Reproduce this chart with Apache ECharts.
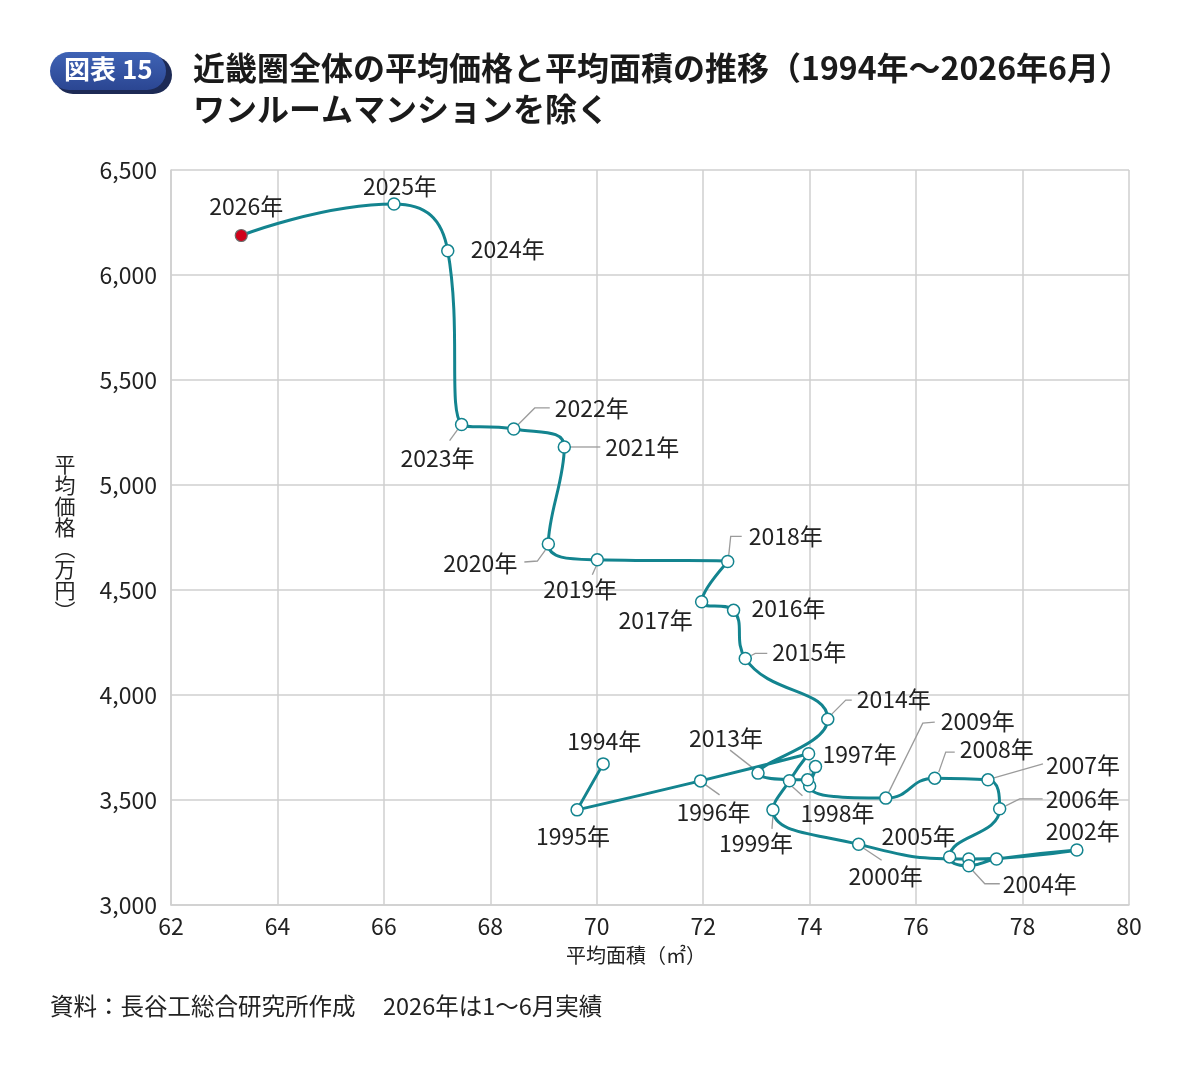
<!DOCTYPE html>
<html>
<head>
<meta charset="utf-8">
<script src="https://cdn.jsdelivr.net/npm/echarts@6/dist/echarts.min.js"></script>
<style>
html,body{margin:0;padding:0;background:#fff;}
#chart{width:1188px;height:1070px;}
</style>
</head>
<body>
<div id="chart"></div>
<script>
// ---- data ----
var years = [1994,1995,1996,1997,1998,1999,2000,2001,2002,2003,2004,2005,2006,2007,2008,2009,2010,2011,2012,2013,2014,2015,2016,2017,2018,2019,2020,2021,2022,2023,2024,2025,2026];
var area = [70.12,69.63,71.95,73.98,73.62,73.31,74.92,76.99,79.02,77.51,76.99,76.63,77.57,77.35,76.35,75.43,74.00,74.11,73.96,73.03,74.34,72.79,72.57,71.97,72.46,70.01,69.09,69.39,68.44,67.46,67.20,66.19,63.32];
var price = [3672,3453,3591,3720,3592,3453,3289,3219,3262,3219,3187,3229,3458,3596,3604,3509,3567,3659,3596,3628,3885,4174,4403,4444,4636,4644,4719,5181,5267,5288,6115,6338,6188];
var hiddenLabelYears = [2001,2003,2010,2011,2012];
var xTicks = {min:62, max:80, interval:2};
var yTicks = {min:3000, max:6500, interval:500};

// ---- label placement style (offset of label centre from point, leader line path) ----
var labelStyle = {
  1994:{off:[1,-23]},
  1995:{off:[-4,26]},
  1996:{off:[13,31], lead:[[5,4],[19,14]]},
  1997:{off:[51,0]},
  1998:{off:[48,33], lead:[[3,6],[13,15]]},
  1999:{off:[-17,33], lead:[[0,6],[-1,19]]},
  2000:{off:[27,32], lead:[[5,4],[23,16]]},
  2002:{off:[6,-19]},
  2004:{off:[71,19], lead:[[4,5],[16,18],[31,18]]},
  2005:{off:[-31,-21]},
  2006:{off:[83,-10], lead:[[6,-3],[20,-10],[43,-10]]},
  2007:{off:[95,-15], lead:[[6,-2],[55,-16]]},
  2008:{off:[62,-29], lead:[[4,-6],[11,-26],[20,-26]]},
  2009:{off:[92,-77], lead:[[3,-6],[37,-75],[49,-76]]},
  2013:{off:[-32,-35], lead:[[-5,-5],[-28,-23]]},
  2014:{off:[66,-20], lead:[[4,-5],[18,-19],[24,-19]]},
  2015:{off:[64,-6], lead:[[6,-3],[10,-5],[22,-5]]},
  2016:{off:[55,-2]},
  2017:{off:[-46,19]},
  2018:{off:[58,-25], lead:[[1,-6],[3,-25],[14,-25]]},
  2019:{off:[-17,30], lead:[[-1,6],[-5,15]]},
  2020:{off:[-68,19], lead:[[-3,6],[-11,17],[-24,18]]},
  2021:{off:[78,0], lead:[[6,0],[36,0]]},
  2022:{off:[78,-21], lead:[[4,-4],[21,-21],[36,-21]]},
  2023:{off:[-24,34], lead:[[-4,5],[-12,16]]},
  2024:{off:[60,-2]},
  2025:{off:[6,-18]},
  2026:{off:[5,-29]}
};

var TEAL = '#13848f';
var FONT = '"Noto Sans CJK JP", "Noto Sans", sans-serif';

var seriesData = years.map(function (yr, i) {
  var item = { value: [area[i], price[i]] };
  if (hiddenLabelYears.indexOf(yr) >= 0) item.label = { show: false };
  if (yr === 2026) item.itemStyle = { color: '#d0021b', borderColor: '#6b6b6b', borderWidth: 1.2 };
  return item;
});

var chart = echarts.init(document.getElementById('chart'), null, {renderer:'canvas'});
chart.setOption({
  animation: false,
  backgroundColor: '#ffffff',
  textStyle: { fontFamily: FONT },
  grid: { left: 171, right: 59, top: 170, bottom: 165 },
  xAxis: {
    type: 'value', min: xTicks.min, max: xTicks.max, interval: xTicks.interval,
    name: '平均面積（㎡）', nameLocation: 'middle', nameGap: 40,
    nameTextStyle: { fontFamily: FONT, fontSize: 20, color: '#222', padding: [0, 28, 0, 0] },
    axisLine: { show: true, lineStyle: { color: '#cfcfcf', width: 1.5 } },
    axisTick: { show: false },
    axisLabel: { fontFamily: FONT, fontSize: 23, color: '#222', margin: 10 },
    splitLine: { show: true, lineStyle: { color: '#cfcfcf', width: 1.5 } }
  },
  yAxis: {
    type: 'value', min: yTicks.min, max: yTicks.max, interval: yTicks.interval,
    name: '平\n均\n価\n格\n︵\n万\n円\n︶', nameLocation: 'middle', nameGap: 106, nameRotate: 0,
    nameTextStyle: { fontFamily: FONT, fontSize: 21, lineHeight: 21, color: '#222', align: 'center' },
    axisLine: { show: true, lineStyle: { color: '#cfcfcf', width: 1.5 } },
    axisTick: { show: false },
    axisLabel: { fontFamily: FONT, fontSize: 23, color: '#222', margin: 14,
      formatter: function (v) { return v.toLocaleString('en-US'); } },
    splitLine: { show: true, lineStyle: { color: '#cfcfcf', width: 1.5 } }
  },
  series: [
    {
      type: 'custom',
      coordinateSystem: 'cartesian2d',
      silent: true,
      z: 1,
      data: years.map(function (yr, i) { return [area[i], price[i], i]; }),
      encode: { x: 0, y: 1 },
      renderItem: function (params, api) {
        var yr = years[api.value(2)];
        var st = labelStyle[yr];
        if (!st || !st.lead) return { type: 'group', children: [] };
        var c = api.coord([api.value(0), api.value(1)]);
        return {
          type: 'polyline',
          shape: { points: st.lead.map(function (q) { return [c[0] + q[0], c[1] + q[1]]; }) },
          style: { stroke: '#9b9b9b', lineWidth: 1.3, fill: null }
        };
      }
    },
    {
      type: 'line',
      z: 3,
      data: seriesData,
      smooth: 0.5,
      symbol: 'circle',
      symbolSize: 12,
      showAllSymbol: true,
      lineStyle: { color: TEAL, width: 3 },
      itemStyle: { color: '#ffffff', borderColor: TEAL, borderWidth: 1.5 },
      label: {
        show: true,
        position: 'top',
        fontFamily: FONT,
        fontSize: 23,
        color: '#222',
        formatter: function (p) { return years[p.dataIndex] + '年'; }
      },
      labelLayout: function (p) {
        var st = labelStyle[years[p.dataIndex]];
        if (!st) return {};
        var cx = p.rect.x + p.rect.width / 2, cy = p.rect.y + p.rect.height / 2;
        var lx = p.labelRect.x + p.labelRect.width / 2, ly = p.labelRect.y + p.labelRect.height / 2;
        return { dx: cx + st.off[0] - lx, dy: cy + st.off[1] - ly };
      },
      emphasis: { disabled: true }
    }
  ],
  graphic: [
    { type: 'rect', left: 54, top: 56, shape: { width: 118, height: 38, r: 19 }, style: { fill: '#1d2a55' }, z: 1 },
    { type: 'rect', left: 50, top: 52, shape: { width: 116, height: 38, r: 19 },
      style: { fill: new echarts.graphic.LinearGradient(0, 0, 0, 1, [{offset:0,color:'#3f63b5'},{offset:1,color:'#2b4692'}]) }, z: 2 },
    { type: 'text', left: 64, top: 56, z: 3,
      style: { text: '図表 15', fill: '#ffffff', font: 'bold 26px ' + FONT } },
    { type: 'text', left: 193, top: 52,
      style: { text: '近畿圏全体の平均価格と平均面積の推移（1994年～2026年6月）', fill: '#1a1a1a', font: 'bold 32px ' + FONT } },
    { type: 'text', left: 193, top: 93,
      style: { text: 'ワンルームマンションを除く', fill: '#1a1a1a', font: 'bold 32px ' + FONT } },
    { type: 'text', left: 50, top: 994,
      style: { text: '資料：長谷工総合研究所作成', fill: '#222', font: '23.5px ' + FONT } },
    { type: 'text', left: 383, top: 994,
      style: { text: '2026年は1～6月実績', fill: '#222', font: '23.5px ' + FONT } }
  ]
});
</script>
</body>
</html>
